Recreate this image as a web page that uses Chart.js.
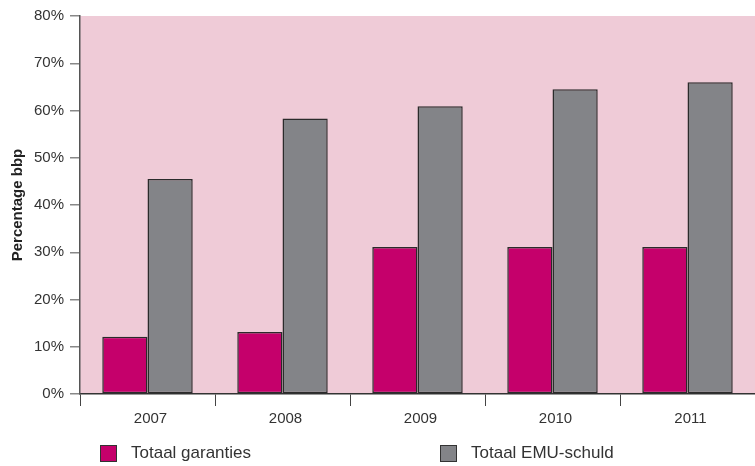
<!DOCTYPE html>
<html>
<head>
<meta charset="utf-8">
<script src="https://cdn.jsdelivr.net/npm/chart.js@4/dist/chart.umd.min.js"></script>
<style>
  body { margin: 0; background: #fff; font-family: "Liberation Sans", Arial, sans-serif; }
  #wrap { position: relative; width: 755px; height: 466px; }
  .leg { position: absolute; top: 443px; font-size: 17px; color: #333; display: flex; align-items: center; }
  .leg span.box { display: inline-block; width: 15px; height: 15px; border: 1px solid #333; margin-right: 14px; }
</style>
</head>
<body>
<div id="wrap">
  <canvas id="chart" width="755" height="466"></canvas>
  <div class="leg" style="left:100px"><span class="box" style="background:#c5006b"></span>Totaal garanties</div>
  <div class="leg" style="left:440px"><span class="box" style="background:#838488"></span>Totaal EMU-schuld</div>
</div>
<script>
var years = ['2007', '2008', '2009', '2010', '2011'];
var garanties = [12.1, 13.1, 31.1, 31.1, 31.1];
var emuSchuld = [45.5, 58.3, 60.9, 64.5, 66.0];
var yTicks = [0, 10, 20, 30, 40, 50, 60, 70, 80];

var plotBg = {
    id: 'plotBg',
    beforeDraw: function (chart) {
        var a = chart.chartArea;
        var ctx = chart.ctx;
        ctx.save();
        ctx.fillStyle = '#efcbd7';
        ctx.fillRect(a.left, a.top, a.right - a.left, a.bottom - a.top);
        ctx.restore();
    }
};

var ctx = document.getElementById('chart').getContext('2d');
var chart = new Chart(ctx, {
    type: 'bar',
    data: {
        labels: years,
        datasets: [
            { label: 'Totaal garanties', data: garanties, backgroundColor: '#c5006b', borderColor: '#2b2b2b', borderWidth: 1.5, borderSkipped: false },
            { label: 'Totaal EMU-schuld', data: emuSchuld, backgroundColor: '#838488', borderColor: '#2b2b2b', borderWidth: 1.5, borderSkipped: false }
        ]
    },
    options: {
        responsive: false,
        animation: false,
        layout: { padding: { top: 16, left: 0, right: 0, bottom: 0 } },
        plugins: { legend: { display: false }, tooltip: { enabled: false } },
        datasets: { bar: { barPercentage: 1, categoryPercentage: 0.67 } },
        scales: {
            x: {
                grid: { drawOnChartArea: false, tickLength: 12, color: '#444', offset: true },
                border: { color: '#333', width: 1.5 },
                ticks: { color: '#333', font: { size: 15, family: 'Liberation Sans' }, padding: 4, labelOffset: 3 },
                afterFit: function (s) { s.height = 72; }
            },
            y: {
                min: 0,
                max: 80,
                afterBuildTicks: function (s) { s.ticks = yTicks.map(function (v) { return { value: v }; }); },
                grid: { drawOnChartArea: false, tickLength: 10, color: '#888', lineWidth: 1.5 },
                border: { color: '#555', width: 1.5 },
                ticks: {
                    color: '#333',
                    font: { size: 15, family: 'Liberation Sans' },
                    padding: 6,
                    callback: function (v) { return v + '%'; }
                },
                title: {
                    display: true,
                    text: 'Percentage bbp',
                    color: '#222',
                    font: { size: 15, weight: 'bold', family: 'Liberation Sans' },
                    padding: { top: 9, bottom: 0 }
                },
                afterFit: function (s) { s.width = 80; }
            }
        }
    },
    plugins: [plotBg]
});
</script>
</body>
</html>
